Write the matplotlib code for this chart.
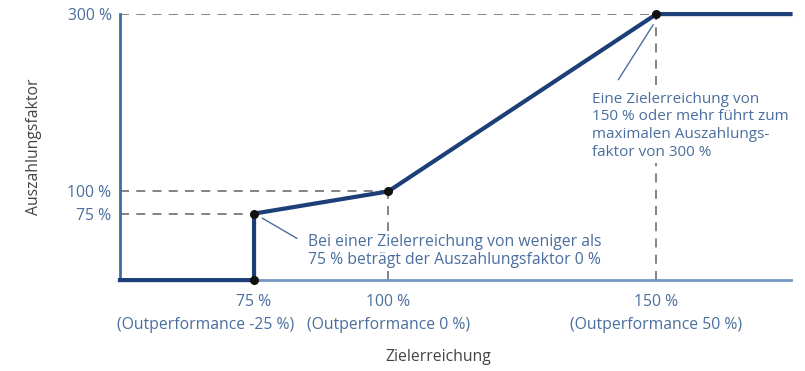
import matplotlib.pyplot as plt

# Auszahlungskurve: Zielerreichung (%) -> Auszahlungsfaktor (%)
ziel = [50, 75, 75, 100, 150, 175]
faktor = [0, 0, 75, 100, 300, 300]

# markierte Eckpunkte
punkte_x = [75, 75, 100, 150]
punkte_y = [0, 75, 100, 300]

xticks = [75, 100, 150]
xtick_labels = ['75 %', '100 %', '150 %']
outperf_labels = ['(Outperformance -25 %)', '(Outperformance 0 %)', '(Outperformance 50 %)']
yticks = [75, 100, 300]
ytick_labels = ['75 %', '100 %', '300 %']

txt_col = '#4a6e9e'
line_col = '#1c3f78'
dash_col = '#7a7a7a'
fs = 11.3

plt.rcParams['font.family'] = ['Open Sans', 'DejaVu Sans']

fig = plt.figure(figsize=(8.05, 3.71), dpi=100)
ax = fig.add_axes([0.149, 0.245, 0.833, 0.717])

# Hilfslinien
dash = dict(color=dash_col, lw=1.3, ls=(0, (5, 4)), zorder=1)
ax.plot([50, 150], [300, 300], **dash)
ax.plot([50, 100], [100, 100], **dash)
ax.plot([50, 75], [75, 75], **dash)
ax.plot([100, 100], [0, 100], **dash)
ax.plot([150, 150], [0, 300], **dash)

ax.plot(ziel, faktor, color=line_col, lw=3, solid_joinstyle='miter', zorder=3, clip_on=False)
ax.scatter(punkte_x, punkte_y, s=30, color='#111111', zorder=4, clip_on=False)

ax.set_xlim(50, 175)
ax.set_ylim(0, 300)

ax.spines['top'].set_visible(False)
ax.spines['right'].set_visible(False)
ax.spines['left'].set_color('#3f6ca3')
ax.spines['left'].set_linewidth(2)
ax.spines['bottom'].set_color('#7496c2')
ax.spines['bottom'].set_linewidth(2)

ax.set_xticks(xticks)
ax.set_xticklabels(xtick_labels, color=txt_col, fontsize=fs)
ax.set_yticks(yticks)
ax.set_yticklabels(ytick_labels, color=txt_col, fontsize=fs)
ax.tick_params(axis='both', length=0, pad=6)
ax.tick_params(axis='x', pad=10)

# zweite Zeile unter den x-Ticks; die erste links an der Achse, damit sie nicht kollidiert
trans = ax.get_xaxis_transform()
for i, (x, lab) in enumerate(zip(xticks, outperf_labels)):
    xpos, ha = (49.5, 'left') if i == 0 else (x, 'center')
    ax.text(xpos, -0.167, lab, transform=trans, ha=ha, va='center',
            fontsize=fs, color=txt_col)

ax.text(0.475, -0.29, 'Zielerreichung', transform=ax.transAxes, ha='center', va='center',
        fontsize=fs, color='#444444')
ax.set_ylabel('Auszahlungsfaktor', fontsize=fs, color='#444444', labelpad=18)

# Erläuterungen mit Hinweislinie
lead = dict(arrowstyle='-', color=txt_col, lw=1, shrinkA=0, shrinkB=0)
box = dict(fc='white', ec='none', pad=2)
ax.annotate('', xy=(76.5, 70), xytext=(83, 47), arrowprops=lead, zorder=2)
ax.text(85.1, 33, 'Bei einer Zielerreichung von weniger als\n75 % beträgt der Auszahlungsfaktor 0 %',
        fontsize=fs, color=txt_col, va='center', ha='left', linespacing=1.2, bbox=box, zorder=2)
ax.annotate('', xy=(149.4, 288), xytext=(142.9, 226), arrowprops=lead, zorder=2)
ax.text(138.0, 174, 'Eine Zielerreichung von\n150 % oder mehr führt zum\nmaximalen Auszahlungs-\nfaktor von 300 %',
        fontsize=fs - 0.3, color=txt_col, va='center', ha='left', linespacing=1.25, bbox=box, zorder=2)

fig.savefig('out.png', dpi=100)
